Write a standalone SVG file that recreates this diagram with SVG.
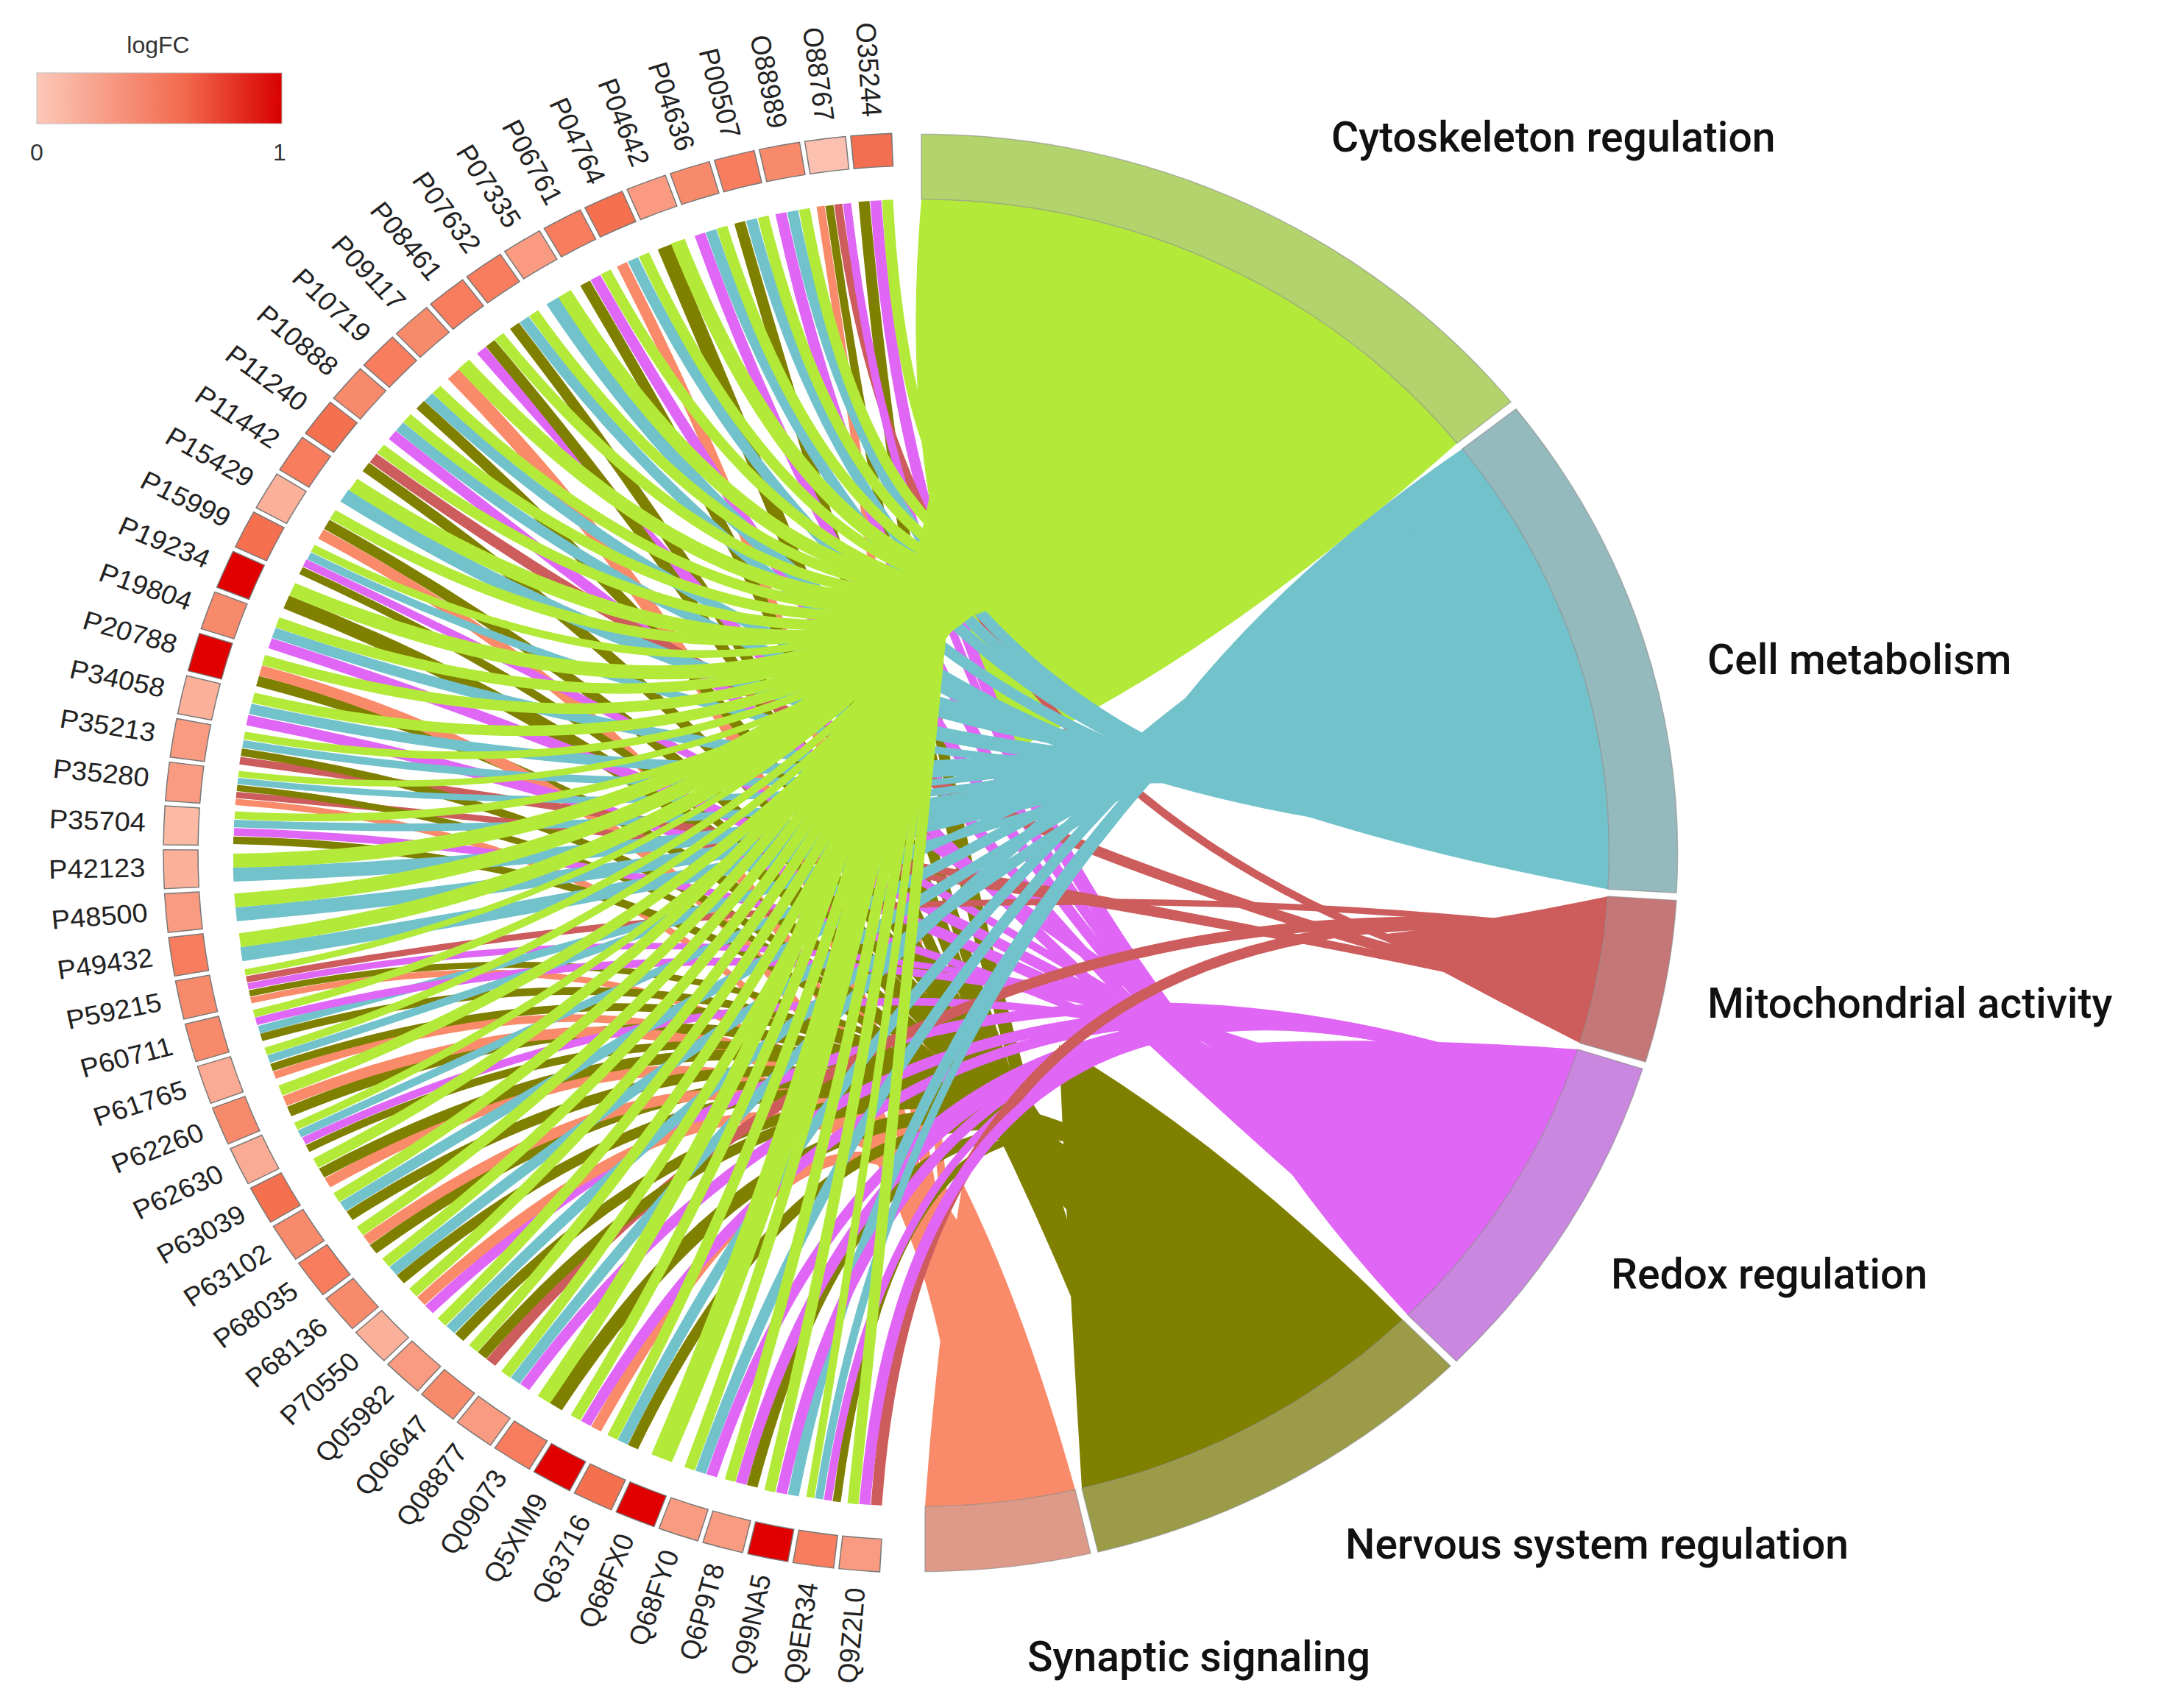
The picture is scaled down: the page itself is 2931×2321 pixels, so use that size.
<svg xmlns="http://www.w3.org/2000/svg" width="2931" height="2321" viewBox="0 0 2931 2321">
<defs>
<linearGradient id="lg" x1="0" x2="1" y1="0" y2="0"><stop offset="0" stop-color="#fcc8b8"/><stop offset="0.6" stop-color="#f26a4e"/><stop offset="1" stop-color="#d80000"/></linearGradient>
<path id="box" d="M982.6,-26.6 L1029.6,-27.9 A1030,1030 0 0 1 1029.6,27.9 L982.6,26.6 A983,983 0 0 0 982.6,-26.6Z"/>
</defs>
<style>
.gl{font-family:"Liberation Sans",Arial,sans-serif;font-size:38px;fill:#222;text-anchor:end;dominant-baseline:middle}
.tl{font-family:Roboto,"Liberation Sans",sans-serif;font-size:57px;font-weight:500;fill:#111}
.lg{font-family:"Liberation Sans",Arial,sans-serif;font-size:32px;fill:#333}
#chords path{fill:none}
.C{stroke:#b3ea3a}.M{stroke:#72c2cc}.R{stroke:#cd5c5c}.X{stroke:#e066f5}.N{stroke:#808000}.S{stroke:#f98a6a}
.k1{stroke-width:30}.k2{stroke-width:20}.k3{stroke-width:15}.k4{stroke-width:11}.k5{stroke-width:9}
.ring{stroke:#888;stroke-width:1.5;stroke-opacity:.6}
.gb{stroke:#777;stroke-width:1.5}
</style>
<rect width="2931" height="2321" fill="#fff"/>
<g id="legend">
<text class="lg" x="215" y="72" text-anchor="middle">logFC</text>
<rect x="50" y="99" width="333" height="69" fill="url(#lg)" stroke="#bbb"/>
<text class="lg" x="50" y="218" text-anchor="middle">0</text>
<text class="lg" x="380" y="218" text-anchor="middle">1</text>
</g>
<g transform="translate(1252,1159) scale(1,0.95)">
<g id="fans">
<path fill="#b3ea3a" d="M0,-935 A935,935 0 0 1 728,-586 Q400,-280 130,-150 Q-40,-450 0,-935Z"/>
<path fill="#72c2cc" d="M735,-578 A935,935 0 0 1 933,52 Q560,-20 300,-140 Q460,-380 735,-578Z"/>
<path fill="#cd5c5c" d="M933,62 A935,935 0 0 1 895,272 Q760,200 617,118 Q760,100 933,62Z"/>
<path fill="#e066f5" d="M892,281 A935,935 0 0 1 661,661 Q500,480 392,275 Q620,260 892,281Z"/>
<path fill="#808000" d="M654,668 A935,935 0 0 1 218,909 Q200,600 187,275 Q420,420 654,668Z"/>
<path fill="#f98a6a" d="M209,911 A935,935 0 0 1 5,935 Q20,700 56,472 Q140,650 209,911Z"/>
</g>
<g id="chords">
<path class="N k3" d="M-78,-932 Q0,0 304,884"/><path class="X k3" d="M-62,-933 Q0,0 695,626"/><path class="C k3" d="M-46,-934 Q0,0 661,-661"/>
<path class="S k4" d="M-137,-925 Q0,0 65,933"/><path class="N k4" d="M-125,-926 Q0,0 304,884"/><path class="R k4" d="M-113,-928 Q0,0 911,210"/><path class="X k4" d="M-101,-929 Q0,0 695,626"/>
<path class="X k3" d="M-191,-915 Q0,0 695,626"/><path class="M k3" d="M-175,-918 Q0,0 934,-33"/><path class="C k3" d="M-159,-921 Q0,0 661,-661"/>
<path class="N k3" d="M-247,-902 Q0,0 304,884"/><path class="M k3" d="M-231,-906 Q0,0 934,-33"/><path class="C k3" d="M-215,-910 Q0,0 661,-661"/>
<path class="X k3" d="M-301,-885 Q0,0 695,626"/><path class="M k3" d="M-286,-890 Q0,0 934,-33"/><path class="C k3" d="M-271,-895 Q0,0 661,-661"/>
<path class="N k2" d="M-349,-867 Q0,0 304,884"/><path class="C k2" d="M-331,-875 Q0,0 661,-661"/>
<path class="S k3" d="M-407,-842 Q0,0 65,933"/><path class="M k3" d="M-392,-849 Q0,0 934,-33"/><path class="C k3" d="M-377,-856 Q0,0 661,-661"/>
<path class="N k3" d="M-457,-815 Q0,0 304,884"/><path class="X k3" d="M-443,-823 Q0,0 695,626"/><path class="C k3" d="M-429,-831 Q0,0 661,-661"/>
<path class="M k2" d="M-501,-790 Q0,0 934,-33"/><path class="C k2" d="M-485,-800 Q0,0 563,-747"/>
<path class="N k3" d="M-553,-754 Q0,0 304,884"/><path class="M k3" d="M-540,-763 Q0,0 934,-33"/><path class="C k3" d="M-527,-772 Q0,0 563,-747"/>
<path class="X k3" d="M-598,-719 Q0,0 695,626"/><path class="N k3" d="M-586,-729 Q0,0 304,884"/><path class="C k3" d="M-574,-739 Q0,0 563,-747"/>
<path class="S k2" d="M-636,-685 Q0,0 65,933"/><path class="C k2" d="M-622,-699 Q0,0 563,-747"/>
<path class="N k3" d="M-681,-641 Q0,0 410,840"/><path class="M k3" d="M-670,-652 Q0,0 921,-162"/><path class="C k3" d="M-659,-663 Q0,0 563,-747"/>
<path class="X k3" d="M-719,-598 Q0,0 766,536"/><path class="M k3" d="M-709,-610 Q0,0 921,-162"/><path class="C k3" d="M-699,-622 Q0,0 563,-747"/>
<path class="N k3" d="M-755,-552 Q0,0 410,840"/><path class="R k3" d="M-745,-565 Q0,0 911,210"/><path class="C k3" d="M-735,-578 Q0,0 563,-747"/>
<path class="M k2" d="M-784,-511 Q0,0 921,-162"/><path class="C k2" d="M-772,-527 Q0,0 563,-747"/>
<path class="S k3" d="M-816,-456 Q0,0 65,933"/><path class="N k3" d="M-808,-470 Q0,0 410,840"/><path class="C k3" d="M-800,-484 Q0,0 453,-818"/>
<path class="N k4" d="M-843,-404 Q0,0 410,840"/><path class="X k4" d="M-838,-415 Q0,0 766,536"/><path class="M k4" d="M-832,-425 Q0,0 921,-162"/><path class="C k4" d="M-827,-436 Q0,0 453,-818"/>
<path class="N k2" d="M-863,-359 Q0,0 410,840"/><path class="C k2" d="M-855,-377 Q0,0 453,-818"/>
<path class="X k3" d="M-885,-300 Q0,0 766,536"/><path class="M k3" d="M-880,-315 Q0,0 921,-162"/><path class="C k3" d="M-875,-330 Q0,0 453,-818"/>
<path class="N k3" d="M-902,-246 Q0,0 410,840"/><path class="S k3" d="M-898,-261 Q0,0 65,933"/><path class="C k3" d="M-894,-276 Q0,0 453,-818"/>
<path class="X k3" d="M-916,-190 Q0,0 766,536"/><path class="M k3" d="M-912,-206 Q0,0 889,-289"/><path class="C k3" d="M-908,-222 Q0,0 453,-818"/>
<path class="R k4" d="M-926,-132 Q0,0 911,210"/><path class="N k4" d="M-924,-144 Q0,0 410,840"/><path class="M k4" d="M-922,-156 Q0,0 889,-289"/><path class="C k4" d="M-920,-168 Q0,0 453,-818"/>
<path class="S k5" d="M-932,-73 Q0,0 65,933"/><path class="R k5" d="M-931,-83 Q0,0 911,210"/><path class="N k5" d="M-930,-93 Q0,0 410,840"/><path class="M k5" d="M-929,-103 Q0,0 889,-289"/><path class="C k5" d="M-928,-113 Q0,0 453,-818"/>
<path class="N k4" d="M-935,-18 Q0,0 410,840"/><path class="X k4" d="M-934,-30 Q0,0 766,536"/><path class="M k4" d="M-934,-42 Q0,0 889,-289"/><path class="C k4" d="M-933,-54 Q0,0 453,-818"/>
<path class="M k2" d="M-935,31 Q0,0 889,-289"/><path class="C k2" d="M-935,11 Q0,0 335,-873"/>
<path class="M k2" d="M-931,88 Q0,0 889,-289"/><path class="C k2" d="M-933,68 Q0,0 335,-873"/>
<path class="M k2" d="M-924,145 Q0,0 889,-289"/><path class="C k2" d="M-926,125 Q0,0 335,-873"/>
<path class="S k5" d="M-911,211 Q0,0 162,921"/><path class="N k5" d="M-913,201 Q0,0 509,784"/><path class="X k5" d="M-915,191 Q0,0 826,439"/><path class="R k5" d="M-917,181 Q0,0 928,114"/><path class="C k5" d="M-919,171 Q0,0 335,-873"/>
<path class="N k4" d="M-897,264 Q0,0 509,784"/><path class="M k4" d="M-900,253 Q0,0 889,-289"/><path class="X k4" d="M-904,241 Q0,0 826,439"/><path class="C k4" d="M-907,230 Q0,0 335,-873"/>
<path class="S k4" d="M-879,318 Q0,0 162,921"/><path class="N k4" d="M-883,307 Q0,0 509,784"/><path class="M k4" d="M-887,295 Q0,0 840,-410"/><path class="C k4" d="M-891,284 Q0,0 335,-873"/>
<path class="N k3" d="M-859,370 Q0,0 509,784"/><path class="S k3" d="M-865,355 Q0,0 162,921"/><path class="C k3" d="M-871,340 Q0,0 335,-873"/>
<path class="N k4" d="M-834,423 Q0,0 509,784"/><path class="X k4" d="M-839,412 Q0,0 826,439"/><path class="M k4" d="M-845,402 Q0,0 840,-410"/><path class="C k4" d="M-850,391 Q0,0 335,-873"/>
<path class="S k3" d="M-807,472 Q0,0 162,921"/><path class="N k3" d="M-815,458 Q0,0 509,784"/><path class="C k3" d="M-823,444 Q0,0 210,-911"/>
<path class="N k3" d="M-777,519 Q0,0 509,784"/><path class="M k3" d="M-786,506 Q0,0 840,-410"/><path class="C k3" d="M-795,493 Q0,0 210,-911"/>
<path class="N k3" d="M-745,567 Q0,0 509,784"/><path class="S k3" d="M-754,554 Q0,0 162,921"/><path class="C k3" d="M-763,541 Q0,0 210,-911"/>
<path class="N k3" d="M-708,610 Q0,0 509,784"/><path class="M k3" d="M-718,598 Q0,0 840,-410"/><path class="C k3" d="M-728,586 Q0,0 210,-911"/>
<path class="X k3" d="M-669,653 Q0,0 873,335"/><path class="S k3" d="M-680,641 Q0,0 162,921"/><path class="C k3" d="M-691,629 Q0,0 210,-911"/>
<path class="N k3" d="M-628,693 Q0,0 601,716"/><path class="M k3" d="M-640,682 Q0,0 840,-410"/><path class="C k3" d="M-652,671 Q0,0 210,-911"/>
<path class="R k3" d="M-585,729 Q0,0 928,114"/><path class="N k3" d="M-597,719 Q0,0 601,716"/><path class="C k3" d="M-609,709 Q0,0 210,-911"/>
<path class="X k3" d="M-539,764 Q0,0 873,335"/><path class="M k3" d="M-552,755 Q0,0 775,-523"/><path class="C k3" d="M-565,746 Q0,0 210,-911"/>
<path class="N k2" d="M-497,792 Q0,0 601,716"/><path class="C k2" d="M-513,782 Q0,0 82,-931"/>
<path class="S k3" d="M-442,824 Q0,0 162,921"/><path class="X k3" d="M-456,816 Q0,0 873,335"/><path class="C k3" d="M-470,808 Q0,0 82,-931"/>
<path class="N k3" d="M-392,850 Q0,0 601,716"/><path class="M k3" d="M-406,843 Q0,0 775,-523"/><path class="C k3" d="M-420,836 Q0,0 82,-931"/>
<path class="C k1" d="M-353,866 Q0,0 82,-931"/>
<path class="X k3" d="M-285,891 Q0,0 873,335"/><path class="M k3" d="M-300,886 Q0,0 775,-523"/><path class="C k3" d="M-315,881 Q0,0 82,-931"/>
<path class="N k3" d="M-230,906 Q0,0 601,716"/><path class="X k3" d="M-245,902 Q0,0 873,335"/><path class="C k3" d="M-260,898 Q0,0 82,-931"/>
<path class="M k3" d="M-174,919 Q0,0 775,-523"/><path class="X k3" d="M-190,916 Q0,0 873,335"/><path class="C k3" d="M-206,913 Q0,0 82,-931"/>
<path class="N k4" d="M-115,928 Q0,0 601,716"/><path class="X k4" d="M-127,926 Q0,0 873,335"/><path class="M k4" d="M-139,924 Q0,0 775,-523"/><path class="C k4" d="M-151,922 Q0,0 82,-931"/>
<path class="R k3" d="M-61,933 Q0,0 928,114"/><path class="X k3" d="M-77,932 Q0,0 873,335"/><path class="C k3" d="M-93,931 Q0,0 82,-931"/>
</g>
<g id="terms">
<path class="ring" fill="#b3d46c" d="M0,-935 L0,-1028 A1028,1028 0 0 1 801,-645 L728,-586 A935,935 0 0 0 0,-935Z"/>
<path class="ring" fill="#95babd" d="M735,-578 L808,-635 A1028,1028 0 0 1 1026,57 L933,52 A935,935 0 0 0 735,-578Z"/>
<path class="ring" fill="#c57777" d="M933,62 L1026,68 A1028,1028 0 0 1 984,299 L895,272 A935,935 0 0 0 933,62Z"/>
<path class="ring" fill="#c987e0" d="M892,281 L980,309 A1028,1028 0 0 1 727,727 L661,661 A935,935 0 0 0 892,281Z"/>
<path class="ring" fill="#9c9c48" d="M654,668 L719,734 A1028,1028 0 0 1 240,1000 L218,909 A935,935 0 0 0 654,668Z"/>
<path class="ring" fill="#de9a88" d="M209,911 L230,1002 A1028,1028 0 0 1 5,1028 L5,935 A935,935 0 0 0 209,911Z"/>
</g>
<g id="genes">
<use href="#box" class="gb" fill="#f26f52" transform="rotate(-93.8)"/>
<use href="#box" class="gb" fill="#fcc0b0" transform="rotate(-97.3)"/>
<use href="#box" class="gb" fill="#f88a6c" transform="rotate(-100.8)"/>
<use href="#box" class="gb" fill="#f77d5e" transform="rotate(-104.3)"/>
<use href="#box" class="gb" fill="#f88a6c" transform="rotate(-107.8)"/>
<use href="#box" class="gb" fill="#fa9a80" transform="rotate(-111.3)"/>
<use href="#box" class="gb" fill="#f4704f" transform="rotate(-114.8)"/>
<use href="#box" class="gb" fill="#f77d5e" transform="rotate(-118.3)"/>
<use href="#box" class="gb" fill="#fa9a80" transform="rotate(-121.8)"/>
<use href="#box" class="gb" fill="#f77d5e" transform="rotate(-125.3)"/>
<use href="#box" class="gb" fill="#f77d5e" transform="rotate(-128.8)"/>
<use href="#box" class="gb" fill="#f88a6c" transform="rotate(-132.3)"/>
<use href="#box" class="gb" fill="#f77d5e" transform="rotate(-135.8)"/>
<use href="#box" class="gb" fill="#f88a6c" transform="rotate(-139.3)"/>
<use href="#box" class="gb" fill="#f4704f" transform="rotate(-142.8)"/>
<use href="#box" class="gb" fill="#f77d5e" transform="rotate(-146.3)"/>
<use href="#box" class="gb" fill="#fbb09a" transform="rotate(-149.8)"/>
<use href="#box" class="gb" fill="#f4704f" transform="rotate(-153.3)"/>
<use href="#box" class="gb" fill="#e00000" transform="rotate(-156.8)"/>
<use href="#box" class="gb" fill="#f88a6c" transform="rotate(-160.3)"/>
<use href="#box" class="gb" fill="#e00000" transform="rotate(-163.8)"/>
<use href="#box" class="gb" fill="#fbb09a" transform="rotate(-167.3)"/>
<use href="#box" class="gb" fill="#f99b80" transform="rotate(-170.8)"/>
<use href="#box" class="gb" fill="#f99b80" transform="rotate(-174.3)"/>
<use href="#box" class="gb" fill="#fcb9a4" transform="rotate(-177.8)"/>
<use href="#box" class="gb" fill="#fbb09a" transform="rotate(-181.3)"/>
<use href="#box" class="gb" fill="#f99b80" transform="rotate(-184.8)"/>
<use href="#box" class="gb" fill="#f77d5e" transform="rotate(-188.3)"/>
<use href="#box" class="gb" fill="#f88a6c" transform="rotate(-191.8)"/>
<use href="#box" class="gb" fill="#f88a6c" transform="rotate(-195.3)"/>
<use href="#box" class="gb" fill="#fbaa94" transform="rotate(-198.8)"/>
<use href="#box" class="gb" fill="#f88a6c" transform="rotate(-202.3)"/>
<use href="#box" class="gb" fill="#fbaa94" transform="rotate(-205.8)"/>
<use href="#box" class="gb" fill="#f4704f" transform="rotate(-209.3)"/>
<use href="#box" class="gb" fill="#f88a6c" transform="rotate(-212.8)"/>
<use href="#box" class="gb" fill="#f77d5e" transform="rotate(-216.3)"/>
<use href="#box" class="gb" fill="#f88a6c" transform="rotate(-219.8)"/>
<use href="#box" class="gb" fill="#fbb09a" transform="rotate(-223.3)"/>
<use href="#box" class="gb" fill="#f99b80" transform="rotate(-226.8)"/>
<use href="#box" class="gb" fill="#f88a6c" transform="rotate(-230.3)"/>
<use href="#box" class="gb" fill="#f99b80" transform="rotate(-233.8)"/>
<use href="#box" class="gb" fill="#f77d5e" transform="rotate(-237.3)"/>
<use href="#box" class="gb" fill="#e00000" transform="rotate(-240.8)"/>
<use href="#box" class="gb" fill="#f4704f" transform="rotate(-244.3)"/>
<use href="#box" class="gb" fill="#e00000" transform="rotate(-247.8)"/>
<use href="#box" class="gb" fill="#f99b80" transform="rotate(-251.3)"/>
<use href="#box" class="gb" fill="#f99b80" transform="rotate(-254.8)"/>
<use href="#box" class="gb" fill="#e00000" transform="rotate(-258.3)"/>
<use href="#box" class="gb" fill="#f77d5e" transform="rotate(-261.8)"/>
<use href="#box" class="gb" fill="#f99b80" transform="rotate(-265.3)"/>
</g>
<g id="gene-labels">
<text class="gl" x="-1055" y="0" transform="rotate(86.2)">O35244</text>
<text class="gl" x="-1055" y="0" transform="rotate(82.7)">O88767</text>
<text class="gl" x="-1055" y="0" transform="rotate(79.2)">O88989</text>
<text class="gl" x="-1055" y="0" transform="rotate(75.7)">P00507</text>
<text class="gl" x="-1055" y="0" transform="rotate(72.2)">P04636</text>
<text class="gl" x="-1055" y="0" transform="rotate(68.7)">P04642</text>
<text class="gl" x="-1055" y="0" transform="rotate(65.2)">P04764</text>
<text class="gl" x="-1055" y="0" transform="rotate(61.7)">P06761</text>
<text class="gl" x="-1055" y="0" transform="rotate(58.2)">P07335</text>
<text class="gl" x="-1055" y="0" transform="rotate(54.7)">P07632</text>
<text class="gl" x="-1055" y="0" transform="rotate(51.2)">P08461</text>
<text class="gl" x="-1055" y="0" transform="rotate(47.7)">P09117</text>
<text class="gl" x="-1055" y="0" transform="rotate(44.2)">P10719</text>
<text class="gl" x="-1055" y="0" transform="rotate(40.7)">P10888</text>
<text class="gl" x="-1055" y="0" transform="rotate(37.2)">P11240</text>
<text class="gl" x="-1055" y="0" transform="rotate(33.7)">P11442</text>
<text class="gl" x="-1055" y="0" transform="rotate(30.2)">P15429</text>
<text class="gl" x="-1055" y="0" transform="rotate(26.7)">P15999</text>
<text class="gl" x="-1055" y="0" transform="rotate(23.2)">P19234</text>
<text class="gl" x="-1055" y="0" transform="rotate(19.7)">P19804</text>
<text class="gl" x="-1055" y="0" transform="rotate(16.2)">P20788</text>
<text class="gl" x="-1055" y="0" transform="rotate(12.7)">P34058</text>
<text class="gl" x="-1055" y="0" transform="rotate(9.2)">P35213</text>
<text class="gl" x="-1055" y="0" transform="rotate(5.7)">P35280</text>
<text class="gl" x="-1055" y="0" transform="rotate(2.2)">P35704</text>
<text class="gl" x="-1055" y="0" transform="rotate(-1.3)">P42123</text>
<text class="gl" x="-1055" y="0" transform="rotate(-4.8)">P48500</text>
<text class="gl" x="-1055" y="0" transform="rotate(-8.3)">P49432</text>
<text class="gl" x="-1055" y="0" transform="rotate(-11.8)">P59215</text>
<text class="gl" x="-1055" y="0" transform="rotate(-15.3)">P60711</text>
<text class="gl" x="-1055" y="0" transform="rotate(-18.8)">P61765</text>
<text class="gl" x="-1055" y="0" transform="rotate(-22.3)">P62260</text>
<text class="gl" x="-1055" y="0" transform="rotate(-25.8)">P62630</text>
<text class="gl" x="-1055" y="0" transform="rotate(-29.3)">P63039</text>
<text class="gl" x="-1055" y="0" transform="rotate(-32.8)">P63102</text>
<text class="gl" x="-1055" y="0" transform="rotate(-36.3)">P68035</text>
<text class="gl" x="-1055" y="0" transform="rotate(-39.8)">P68136</text>
<text class="gl" x="-1055" y="0" transform="rotate(-43.3)">P70550</text>
<text class="gl" x="-1055" y="0" transform="rotate(-46.8)">Q05982</text>
<text class="gl" x="-1055" y="0" transform="rotate(-50.3)">Q06647</text>
<text class="gl" x="-1055" y="0" transform="rotate(-53.8)">Q08877</text>
<text class="gl" x="-1055" y="0" transform="rotate(-57.3)">Q09073</text>
<text class="gl" x="-1055" y="0" transform="rotate(-60.8)">Q5XIM9</text>
<text class="gl" x="-1055" y="0" transform="rotate(-64.3)">Q63716</text>
<text class="gl" x="-1055" y="0" transform="rotate(-67.8)">Q68FX0</text>
<text class="gl" x="-1055" y="0" transform="rotate(-71.3)">Q68FY0</text>
<text class="gl" x="-1055" y="0" transform="rotate(-74.8)">Q6P9T8</text>
<text class="gl" x="-1055" y="0" transform="rotate(-78.3)">Q99NA5</text>
<text class="gl" x="-1055" y="0" transform="rotate(-81.8)">Q9ER34</text>
<text class="gl" x="-1055" y="0" transform="rotate(-85.3)">Q9Z2L0</text>
</g>
</g>
<g id="term-labels">
<text class="tl" x="1809" y="206">Cytoskeleton regulation</text>
<text class="tl" x="2320" y="916">Cell metabolism</text>
<text class="tl" x="2320" y="1383">Mitochondrial activity</text>
<text class="tl" x="2189" y="1751">Redox regulation</text>
<text class="tl" x="1828" y="2118">Nervous system regulation</text>
<text class="tl" x="1396" y="2271">Synaptic signaling</text>
</g>
</svg>
